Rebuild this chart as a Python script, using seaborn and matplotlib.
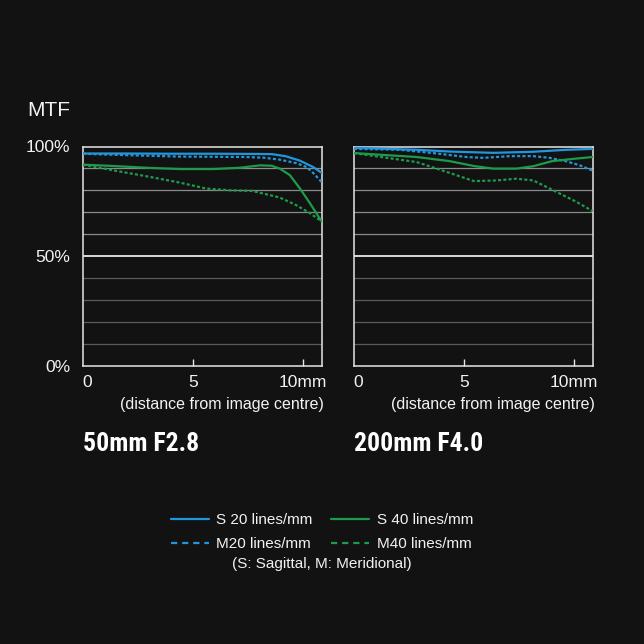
"""
MTF charts for two focal lengths (50mm F2.8 and 200mm F4.0), dark style.
"""

import matplotlib
matplotlib.use("Agg")
import matplotlib.pyplot as plt
import matplotlib.transforms as mtransforms
from matplotlib import font_manager
from matplotlib.lines import Line2D
import pandas as pd
import seaborn as sns


# Chart data
# distance from image centre in mm, MTF in %
WIDE_S20_X = [0, 2, 4, 6, 8, 8.6, 9.2, 9.85, 10.47, 10.85]
WIDE_S20_Y = [96.8, 96.8, 96.7, 96.7, 96.6, 96.5, 95.6, 93.6, 90.6, 88.0]
WIDE_M20_X = [0, 1.4, 2.9, 4.4, 7.4, 8.2, 8.95, 9.7, 10.17, 10.47, 10.85]
WIDE_M20_Y = [96.7, 96.2, 95.8, 95.4, 95.2, 94.9, 94.0, 92.4, 90.6, 87.9, 83.8]
WIDE_S40_X = [0, 1.38, 2.89, 4.41, 5.92, 7.14, 8.05, 8.58, 8.95, 9.41, 9.86, 10.32, 10.85]
WIDE_S40_Y = [91.7, 91.1, 90.3, 89.7, 89.7, 90.3, 91.4, 91.2, 89.9, 86.9, 80.9, 74.1, 65.8]
WIDE_M40_X = [0, 1.38, 2.89, 4.41, 5.6, 6.7, 7.7, 8.2, 8.95, 9.7, 10.3, 10.85]
WIDE_M40_Y = [91.7, 89.1, 86.4, 83.5, 80.8, 80.0, 79.7, 78.5, 76.7, 73.2, 69.7, 65.8]

TELE_S20_X = [0, 2.85, 4.36, 6.33, 8.15, 9.67, 10.85]
TELE_S20_Y = [99.4, 98.5, 97.7, 97.1, 97.6, 98.5, 98.9]
TELE_M20_X = [0, 2.09, 3.6, 5.12, 5.88, 7.09, 8.15, 8.9, 9.67, 10.27, 10.85]
TELE_M20_Y = [98.9, 98.5, 97.0, 95.2, 94.8, 95.6, 95.6, 94.8, 93.2, 91.4, 89.0]
TELE_S40_X = [0, 0.94, 2.85, 4.36, 5.45, 6.33, 7.39, 8.15, 9.0, 10.12, 10.85]
TELE_S40_Y = [97.0, 96.4, 95.2, 93.3, 91.1, 89.9, 89.9, 91.0, 93.3, 94.5, 95.2]
TELE_M40_X = [0, 0.94, 2.85, 4.36, 5.45, 6.48, 7.39, 8.15, 9.0, 10.12, 10.85]
TELE_M40_Y = [97.0, 95.6, 92.9, 87.9, 84.2, 84.5, 85.3, 84.5, 80.3, 74.7, 70.5]

LENS_TITLES = ["50mm F2.8", "200mm F4.0"]
SERIES_LABELS = ["S 20 lines/mm", "M20 lines/mm", "S 40 lines/mm", "M40 lines/mm"]
X_TICKS = [0, 5, 10]
X_TICK_LABELS = ["0", "5", "10mm"]
Y_TICKS = [0, 50, 100]
Y_TICK_LABELS = ["0%", "50%", "100%"]
GRID_LEVELS = [10, 20, 30, 40, 50, 60, 70, 80, 90]

# Colours
BG = "#121212"
BLUE = "#2196dc"
GREEN = "#1e9a4c"
TEXT = "#f2f2f2"


def build_frame(lens, series):
    rows = []
    for (xs, ys), label in zip(series, SERIES_LABELS):
        for x, y in zip(xs, ys):
            rows.append({"lens": lens, "series": label, "mm": x, "mtf": y})
    return pd.DataFrame(rows)


def pick_condensed_font():
    names = {f.name for f in font_manager.fontManager.ttflist}
    for name in ["Liberation Sans Narrow", "DejaVu Sans Condensed", "Roboto Condensed", "Open Sans Condensed"]:
        if name in names:
            return name
    return "Roboto"


wide = build_frame(LENS_TITLES[0], [(WIDE_S20_X, WIDE_S20_Y), (WIDE_M20_X, WIDE_M20_Y),
                                    (WIDE_S40_X, WIDE_S40_Y), (WIDE_M40_X, WIDE_M40_Y)])
tele = build_frame(LENS_TITLES[1], [(TELE_S20_X, TELE_S20_Y), (TELE_M20_X, TELE_M20_Y),
                                    (TELE_S40_X, TELE_S40_Y), (TELE_M40_X, TELE_M40_Y)])

sns.set_theme(style="dark")
plt.rcParams["font.family"] = ["Liberation Sans", "DejaVu Sans"]
plt.rcParams["lines.scale_dashes"] = False
plt.rcParams["figure.facecolor"] = BG
plt.rcParams["axes.facecolor"] = BG

palette = {SERIES_LABELS[0]: BLUE, SERIES_LABELS[1]: BLUE,
           SERIES_LABELS[2]: GREEN, SERIES_LABELS[3]: GREEN}
dashes = {SERIES_LABELS[0]: "", SERIES_LABELS[1]: (2.2, 1.6),
          SERIES_LABELS[2]: "", SERIES_LABELS[3]: (2.2, 1.6)}

fig = plt.figure(figsize=(6.44, 6.44), dpi=100)
ax_left = fig.add_axes([83 / 644, 1 - 365.5 / 644, 238.6 / 644, 219 / 644])
ax_right = fig.add_axes([354 / 644, 1 - 365.5 / 644, 238.6 / 644, 219 / 644])

title_font = pick_condensed_font()
zero_shift = mtransforms.ScaledTranslation(4 / 100, 0, fig.dpi_scale_trans)

for ax, df, title in [(ax_left, wide, LENS_TITLES[0]), (ax_right, tele, LENS_TITLES[1])]:
    # Grid lines: brighter above 50%, dimmer below, white at 50%
    for level in GRID_LEVELS:
        if level == 50:
            ax.axhline(level, color="#e8e8e8", lw=1.3, zorder=1)
        elif level > 50:
            ax.axhline(level, color="#8a8a8a", lw=0.9, zorder=1)
        else:
            ax.axhline(level, color="#5a5a5a", lw=0.9, zorder=1)

    sns.lineplot(data=df, x="mm", y="mtf", hue="series", style="series",
                 palette=palette, dashes=dashes, hue_order=SERIES_LABELS,
                 style_order=SERIES_LABELS, linewidth=1.6, legend=False,
                 ax=ax, zorder=3, sort=False)

    ax.set_xlim(0, 10.85)
    ax.set_ylim(0, 100)
    ax.set_xlabel("")
    ax.set_ylabel("")
    ax.grid(False)

    for spine in ax.spines.values():
        spine.set_visible(True)
        spine.set_color("#e6e6e6")
        spine.set_linewidth(1.1)

    ax.set_xticks(X_TICKS)
    ax.set_xticklabels(X_TICK_LABELS)
    ax.tick_params(axis="x", direction="in", length=5, width=1, color="#e6e6e6",
                   labelcolor=TEXT, labelsize=12.5, pad=7, bottom=True)
    # the 0 tick sits on the spine; hide its mark and nudge its label right
    first_tick = ax.xaxis.get_major_ticks()[0]
    first_tick.tick1line.set_visible(False)
    first_tick.label1.set_transform(first_tick.label1.get_transform() + zero_shift)

    ax.set_yticks(Y_TICKS)
    if ax is ax_left:
        ax.set_yticklabels(Y_TICK_LABELS)
        ax.tick_params(axis="y", length=0, labelcolor=TEXT, labelsize=12.5, pad=9)
    else:
        ax.set_yticklabels([])
        ax.tick_params(axis="y", length=0)

    ax.text(1.01, -0.178, "(distance from image centre)", transform=ax.transAxes,
            ha="right", va="center", color=TEXT, fontsize=11.5)
    ax.text(0.0, -0.36, title, transform=ax.transAxes, ha="left", va="center",
            color="white", fontsize=18.5, fontweight="bold", family=[title_font, "DejaVu Sans"])

fig.text(27 / 644, 1 - 111 / 644, "MTF", ha="left", va="center", color=TEXT, fontsize=15)

# Legend below both charts
handles = [
    Line2D([], [], color=BLUE, lw=1.6),
    Line2D([], [], color=BLUE, lw=1.6, dashes=(4.5, 3.5)),
    Line2D([], [], color=GREEN, lw=1.6),
    Line2D([], [], color=GREEN, lw=1.6, dashes=(4.5, 3.5)),
]
legend = fig.legend(handles, SERIES_LABELS, ncol=2, loc="center",
                    bbox_to_anchor=(0.5, 1 - 532 / 644), frameon=False,
                    fontsize=11, handlelength=2.5, handletextpad=0.5,
                    columnspacing=1.2, labelspacing=0.65, borderpad=0)
for text in legend.get_texts():
    text.set_color(TEXT)

fig.text(0.5, 1 - 564 / 644, "(S: Sagittal, M: Meridional)", ha="center", va="center",
         color=TEXT, fontsize=11)

fig.savefig("out.png", dpi=100, facecolor=BG)
